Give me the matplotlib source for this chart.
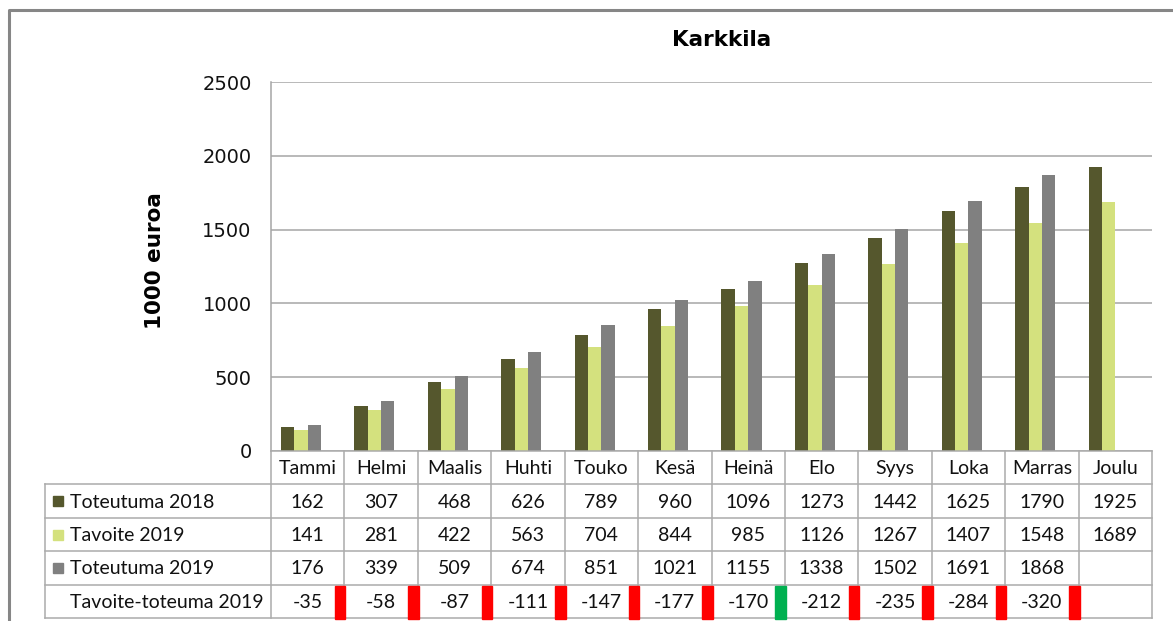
import matplotlib
matplotlib.use('Agg')
import matplotlib.pyplot as plt
import numpy as np
from matplotlib.patches import Rectangle

months = ['Tammi', 'Helmi', 'Maalis', 'Huhti', 'Touko', 'Kesä',
          'Heinä', 'Elo', 'Syys', 'Loka', 'Marras', 'Joulu']
toteutuma_2018 = [162, 307, 468, 626, 789, 960, 1096, 1273, 1442, 1625, 1790, 1925]
tavoite_2019 = [141, 281, 422, 563, 704, 844, 985, 1126, 1267, 1407, 1548, 1689]
toteutuma_2019 = [176, 339, 509, 674, 851, 1021, 1155, 1338, 1502, 1691, 1868, None]
erotus_2019 = [-35, -58, -87, -111, -147, -177, -170, -212, -235, -284, -320, None]

series_names = ['Toteutuma 2018', 'Tavoite 2019', 'Toteutuma 2019', 'Tavoite-toteuma 2019']
colors = ['#55572D', '#D4E17E', '#808080']

W, H = 1173, 621
fig = plt.figure(figsize=(W / 100, H / 100), dpi=100)

# plot area in pixels
px_left, px_right, px_top, px_bottom = 271, 1152, 82, 451
ax = fig.add_axes([px_left / W, 1 - px_bottom / H,
                   (px_right - px_left) / W, (px_bottom - px_top) / H])

n = len(months)
x = np.arange(n)
w = 0.182
for k, vals in enumerate([toteutuma_2018, tavoite_2019, toteutuma_2019]):
    xs = [x[i] + (k - 1.5) * w for i in range(n) if vals[i] is not None]
    ys = [v for v in vals if v is not None]
    ax.bar(xs, ys, width=w, color=colors[k], zorder=3)

ax.set_xlim(-0.5, n - 0.5)
ax.set_ylim(0, 2500)
ax.set_yticks(range(0, 2501, 500))
ax.set_xticks([])
ax.tick_params(axis='y', length=0, pad=14, labelsize=14, labelcolor='#111111')
ax.grid(axis='y', color='#A6A6A6', linewidth=1.1, zorder=0)
for s in ['top', 'right', 'bottom']:
    ax.spines[s].set_visible(False)
ax.spines['left'].set_color('#A6A6A6')
ax.spines['left'].set_linewidth(1.1)

# overlay in pixel coordinates for the table and frame
ov = fig.add_axes([0, 0, 1, 1], zorder=5)
ov.set_xlim(0, W)
ov.set_ylim(H, 0)
ov.axis('off')

# outer chart frame
ov.plot([9, 9, W], [H, 10, 10], color='#868686', lw=2.2, solid_capstyle='butt')

fig.text(722 / W, 1 - 40 / H, 'Karkkila', ha='center', va='center',
         fontsize=15.5, fontweight='bold', color='black')
fig.text(155 / W, 1 - 261 / H, '1000 euroa', ha='center', va='center',
         rotation=90, fontsize=15.5, fontweight='bold', color='black')

# data table
tbl_left = 45
col_w = (px_right - px_left) / n
row_edges = [451, 484, 518, 551, 585, 618]
line_kw = dict(color='#ABABAB', lw=1.1)
tfont = dict(family='Lato', fontsize=14, color='#111111')

ov.plot([px_left, px_right], [row_edges[0]] * 2, **line_kw)
for yy in row_edges[1:]:
    ov.plot([tbl_left, px_right], [yy, yy], **line_kw)
ov.plot([tbl_left, tbl_left], [row_edges[1], row_edges[-1]], **line_kw)
for i in range(n + 1):
    xx = px_left + i * col_w
    ov.plot([xx, xx], [row_edges[0], row_edges[-1]], **line_kw)

for i, m in enumerate(months):
    cx = px_left + (i + 0.5) * col_w
    ov.text(cx, (row_edges[0] + row_edges[1]) / 2 + 1, m, ha='center', va='center', **tfont)

rows = [toteutuma_2018, tavoite_2019, toteutuma_2019, erotus_2019]
for r, vals in enumerate(rows):
    cy = (row_edges[r + 1] + row_edges[r + 2]) / 2 + 1
    ov.text(70, cy, series_names[r], ha='left', va='center', **tfont)
    if r < 3:
        ov.add_patch(Rectangle((53, cy - 6), 10, 10, color=colors[r]))
    for i, v in enumerate(vals):
        if v is None:
            continue
        cx = px_left + (i + 0.5) * col_w
        ov.text(cx, cy, str(v), ha='center', va='center', **tfont)

# status markers: green when the gap improved from previous month
prev = 0
for i, v in enumerate(erotus_2019):
    if v is None:
        continue
    c = '#00B050' if v > prev else '#FF0000'
    prev = v
    xr = px_left + (i + 1) * col_w
    ov.add_patch(Rectangle((xr - 9.5, 586), 10.5, 33, color=c, zorder=6))

fig.savefig('out.png', dpi=100)
